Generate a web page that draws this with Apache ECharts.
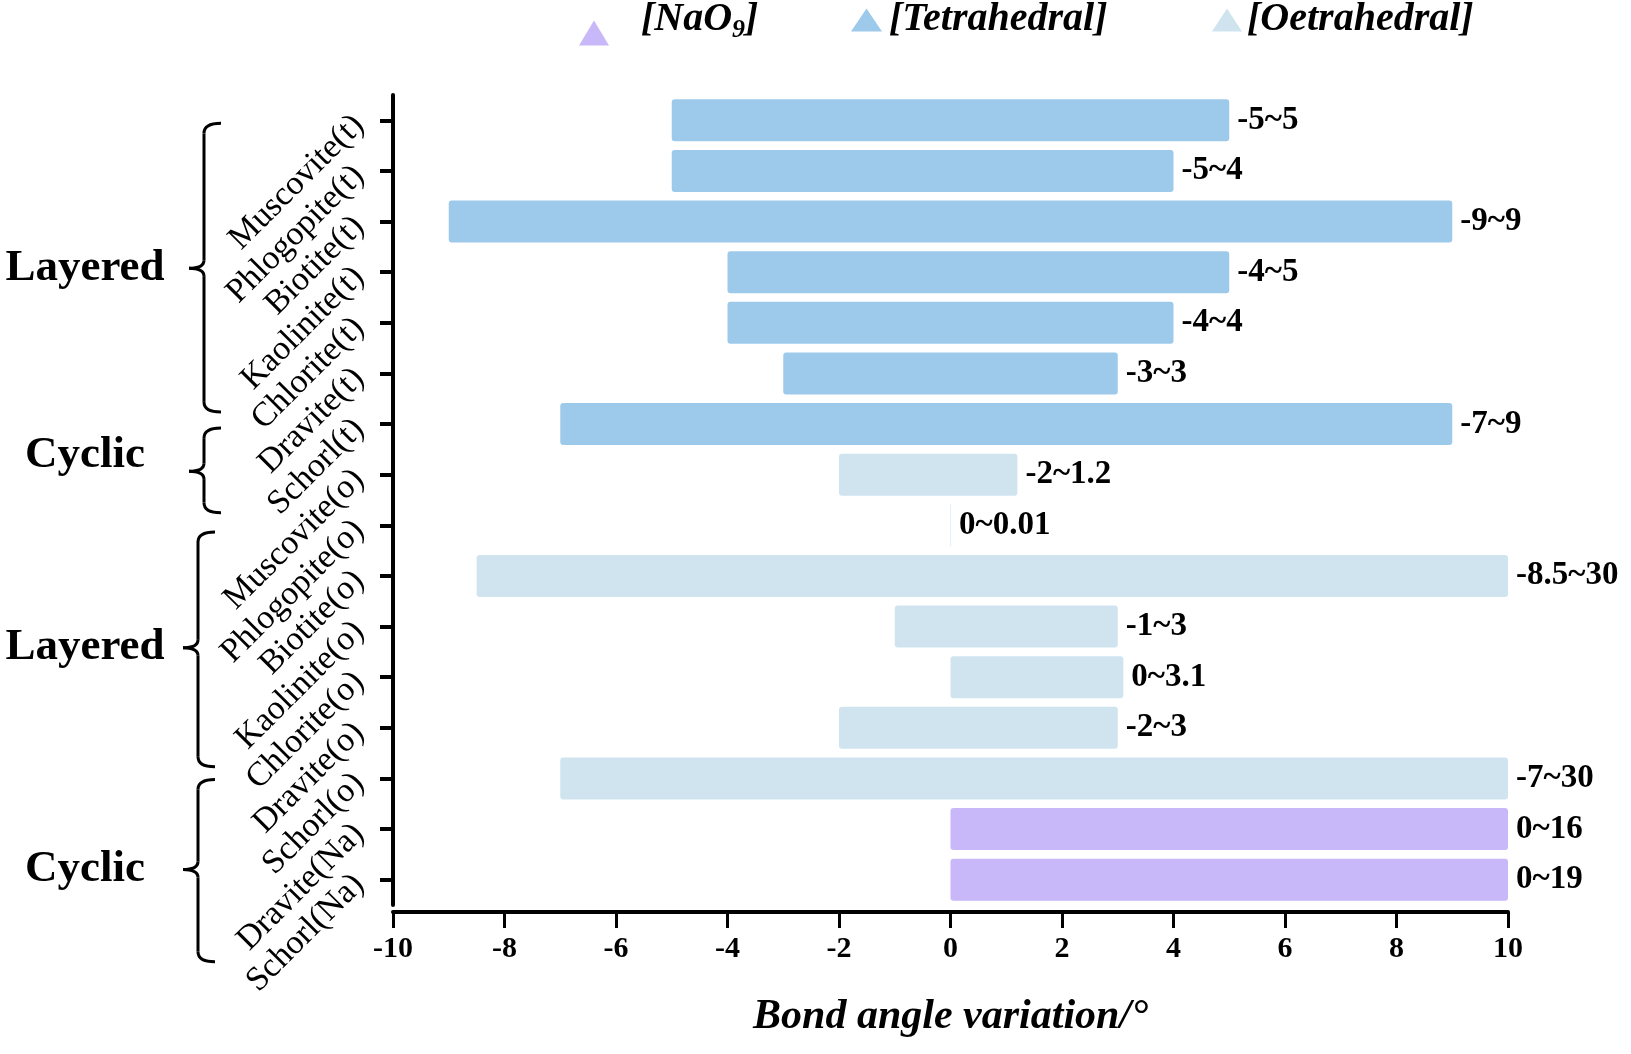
<!DOCTYPE html>
<html>
<head>
<meta charset="utf-8">
<script src="https://cdn.jsdelivr.net/npm/echarts@6/dist/echarts.min.js"></script>
<style>
html,body{margin:0;padding:0;background:#fff;}
#chart{width:1631px;height:1054px;}
</style>
</head>
<body>
<div id="chart"></div>
<script>
// ---- data ----
const categories = ['Muscovite(t)','Phlogopite(t)','Biotite(t)','Kaolinite(t)','Chlorite(t)','Dravite(t)','Schorl(t)',
  'Muscovite(o)','Phlogopite(o)','Biotite(o)','Kaolinite(o)','Chlorite(o)','Dravite(o)','Schorl(o)','Dravite(Na)','Schorl(Na)'];
const minValues = [-5,-5,-9,-4,-4,-3,-7,-2,0,-8.5,-1,0,-2,-7,0,0];
const maxValues = [5,4,9,5,4,3,9,1.2,0.01,30,3,3.1,3,30,16,19];
const polyhedron = ['[Tetrahedral]','[Tetrahedral]','[Tetrahedral]','[Tetrahedral]','[Tetrahedral]','[Tetrahedral]','[Tetrahedral]',
  '[Oetrahedral]','[Oetrahedral]','[Oetrahedral]','[Oetrahedral]','[Oetrahedral]','[Oetrahedral]','[Oetrahedral]','[NaO9]','[NaO9]'];
const seriesNames = ['[NaO9]','[Tetrahedral]','[Oetrahedral]'];
const seriesColors = ['#c9b8f9','#9dcaea','#cfe4ef'];
const xMin = -10, xMax = 10, xInterval = 2;
const groupNames = ['Layered','Cyclic','Layered','Cyclic'];
const axisTitle = 'Bond angle variation/°';

// ---- layout constants ----
const BAR_HEIGHT = 42;
const braceLayout = [ // in category-index units
  {top:0.06, bottom:5.76, tip:2.92, label:2.92, x:204},
  {top:6.08, bottom:7.75, tip:6.93, label:6.61, x:204},
  {top:8.13, bottom:12.77, tip:10.42, label:10.42, x:198},
  {top:13.02, bottom:16.62, tip:14.8, label:14.8, x:198}
];

const FONT = 'Liberation Serif, Times New Roman, serif';
const rangeLabels = categories.map((c,i)=> minValues[i] + '~' + maxValues[i]);

const series = seriesNames.map((name, si) => {
  const data = [];
  categories.forEach((c,i)=>{ if (polyhedron[i]===name) data.push([i, minValues[i], maxValues[i]]); });
  return {
    type:'custom', name:name, itemStyle:{color:seriesColors[si]},
    encode:{y:0, x:[1,2]}, data:data, clip:false,
    renderItem:function(params, api){
      const ci = api.value(0);
      const a = api.coord([api.value(1), ci]);
      const b = api.coord([api.value(2), ci]);
      const cs = params.coordSys;
      const rect = echarts.graphic.clipRectByRect(
        {x:a[0], y:a[1]-BAR_HEIGHT/2, width:Math.max(b[0]-a[0], 0.6), height:BAR_HEIGHT},
        {x:cs.x, y:cs.y, width:cs.width, height:cs.height});
      if (!rect) return;
      return {
        type:'rect',
        shape:{x:rect.x, y:rect.y, width:rect.width, height:rect.height, r:rect.width > 6 ? 3 : 0},
        style:{fill:seriesColors[si]},
        textContent:{style:{text:rangeLabels[ci], font:'bold 33px ' + FONT, fill:'#000'}},
        textConfig:{position:'right', distance:8}
      };
    }
  };
});

const legendText = {fontFamily:FONT, fontWeight:'bold', fontStyle:'italic', fontSize:40, color:'#000'};
function legendFmt(n){ return n === '[NaO9]' ? '{m|[NaO}{s|9}{m|]}' : '{m|' + n + '}'; }
const rich = {
  m:Object.assign({}, legendText, {lineHeight:46}),
  s:Object.assign({}, legendText, {fontSize:26, lineHeight:46, verticalAlign:'bottom', padding:[14,0,0,0]})
};

const chart = echarts.init(document.getElementById('chart'));
chart.setOption({
  animation:false,
  backgroundColor:'#fff',
  legend:[
    {data:['[NaO9]'], left:579, top:0, padding:0, icon:'triangle', itemWidth:30, itemHeight:25,
     formatter:legendFmt, textStyle:Object.assign({}, legendText, {rich:rich, padding:[0,0,26,27]})},
    {data:['[Tetrahedral]'], left:851, top:0, padding:0, icon:'triangle', itemWidth:31, itemHeight:23,
     formatter:legendFmt, textStyle:Object.assign({}, legendText, {rich:rich, padding:[0,0,0,2]})},
    {data:['[Oetrahedral]'], left:1212, top:0, padding:0, icon:'triangle', itemWidth:30, itemHeight:23,
     formatter:legendFmt, textStyle:Object.assign({}, legendText, {rich:rich})}
  ],
  grid:{left:393, right:123, top:95, height:810, containLabel:false},
  xAxis:{
    type:'value', min:xMin, max:xMax, interval:xInterval, offset:7,
    axisLine:{show:true, lineStyle:{color:'#000', width:4}},
    axisTick:{show:true, length:16, lineStyle:{color:'#000', width:3}},
    splitLine:{show:false},
    axisLabel:{fontFamily:FONT, fontWeight:'bold', fontSize:30, color:'#000', margin:22},
    name:axisTitle, nameLocation:'middle', nameGap:84,
    nameTextStyle:{fontFamily:FONT, fontWeight:'bold', fontStyle:'italic', fontSize:42, color:'#000'}
  },
  yAxis:{
    type:'category', data:categories, inverse:true,
    axisLine:{show:true, onZero:false, lineStyle:{color:'#000', width:4}},
    axisTick:{show:true, alignWithLabel:true, length:13, lineStyle:{color:'#000', width:4}},
    axisLabel:{fontFamily:FONT, fontSize:34, color:'#000', rotate:45, margin:34, interval:0}
  },
  series:series
});

// ---- group braces and labels ----
const y0 = chart.convertToPixel({yAxisIndex:0}, categories[0]);
const y1 = chart.convertToPixel({yAxisIndex:0}, categories[1]);
const step = y1 - y0;
const yAt = f => y0 + f*step;
const graphics = [];
const braceStyle = {stroke:'#000', lineWidth:3, fill:null};
function curve(x1,y1,cx,cy,x2,y2){
  return {type:'bezierCurve', shape:{x1:x1,y1:y1,cpx1:cx,cpy1:cy,x2:x2,y2:y2}, style:braceStyle, silent:true};
}
function seg(x1,y1,x2,y2){
  return {type:'line', shape:{x1:x1,y1:y1,x2:x2,y2:y2}, style:braceStyle, silent:true};
}
braceLayout.forEach((b, i) => {
  const t = yAt(b.top), bt = yAt(b.bottom), m = yAt(b.tip), x = b.x;
  graphics.push(curve(x+17, t, x, t, x, t+10));
  graphics.push(seg(x, t+10, x, m-8));
  graphics.push(curve(x, m-8, x, m, x-15, m));
  graphics.push(curve(x-15, m, x, m, x, m+8));
  graphics.push(seg(x, m+8, x, bt-10));
  graphics.push(curve(x, bt-10, x, bt, x+17, bt));
  graphics.push({type:'text', x:85, y:yAt(b.label), silent:true,
    style:{text:groupNames[i], font:'bold 45px ' + FONT, fill:'#000', textAlign:'center', textVerticalAlign:'middle'}});
});
chart.setOption({graphic:graphics});
</script>
</body>
</html>
